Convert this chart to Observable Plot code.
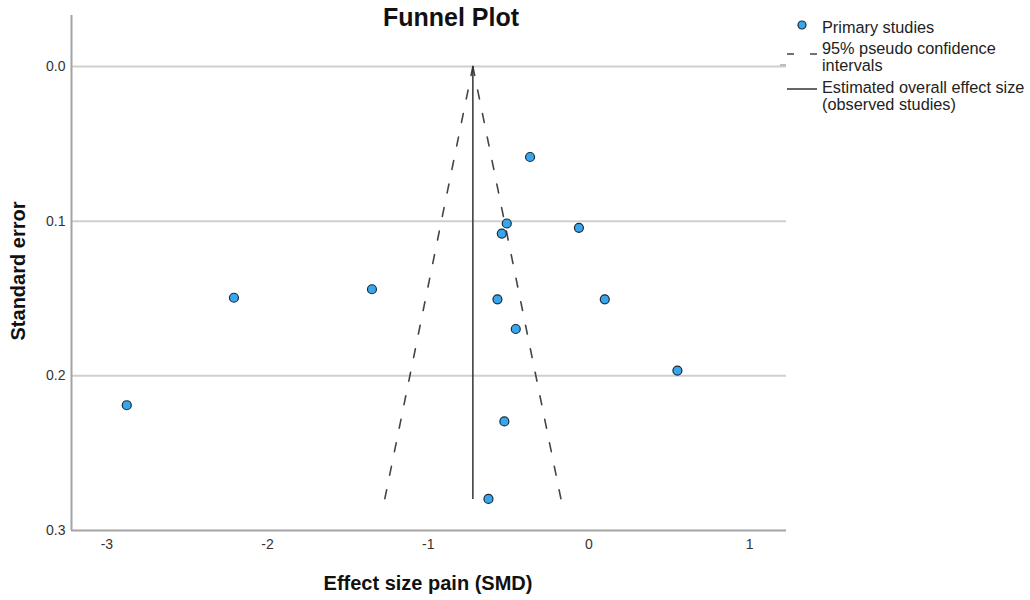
<!DOCTYPE html>
<html>
<head>
<meta charset="utf-8">
<script src="https://cdn.jsdelivr.net/npm/d3@7"></script>
<script src="https://cdn.jsdelivr.net/npm/@observablehq/plot@0.6"></script>
<style>
  body { margin: 0; background: #fff; font-family: "Liberation Sans", Arial, sans-serif; }
  #wrap { position: relative; width: 1030px; height: 600px; }
  .abs { position: absolute; line-height: 1; white-space: nowrap; color: #111; }
  .leg { position: absolute; font-size: 16.3px; line-height: 17px; color: #222; white-space: nowrap; }
</style>
</head>
<body>
<div id="wrap"></div>
<script>
// ---- data ----
const effectSize = [-0.366, -0.511, -0.542, -0.062, -0.569, 0.099, -0.455, 0.551, -0.526, -0.625, -2.209, -1.350, -2.876];
const standardError = [0.0585, 0.1015, 0.108, 0.1043, 0.1505, 0.1505, 0.1697, 0.1966, 0.2295, 0.2796, 0.1495, 0.144, 0.219];
const pooledEffect = -0.722;
const funnelSE = [0, 0.28];
const funnelLeftX = [-0.722, -1.271];
const funnelRightX = [-0.722, -0.173];
const xTicks = [-3, -2, -1, 0, 1];
const yTicks = [0, 0.1, 0.2, 0.3];
const gridY = [0, 0.1, 0.2];
const xDomain = [-3.22, 1.23];
const yDomain = [-0.033, 0.3];

const studies = effectSize.map((x, i) => ({x, se: standardError[i]}));
const leftLine = funnelSE.map((se, i) => ({x: funnelLeftX[i], se}));
const rightLine = funnelSE.map((se, i) => ({x: funnelRightX[i], se}));

const chart = Plot.plot({
  width: 1030,
  height: 600,
  marginLeft: 71,
  marginRight: 244,
  marginTop: 15,
  marginBottom: 70,
  style: {fontFamily: "Liberation Sans, Arial, sans-serif", background: "white"},
  x: {domain: xDomain},
  y: {domain: yDomain, reverse: true},
  marks: [
    Plot.ruleY(gridY, {stroke: "#cfcfcf", strokeWidth: 2}),
    Plot.ruleX([xDomain[0]], {stroke: "#a3a3a3", strokeWidth: 2}),
    Plot.ruleY([yDomain[1]], {stroke: "#a3a3a3", strokeWidth: 2}),
    Plot.axisY({ticks: yTicks, tickSize: 0, tickPadding: 6, tickFormat: d3.format(".1f"), fontSize: 14, label: null, color: "#333"}),
    Plot.axisX({ticks: xTicks, tickSize: 0, tickPadding: 9, tickFormat: d => d < 0 ? "-" + Math.abs(d) : String(d), fontSize: 14, label: null, color: "#333"}),
    Plot.line(leftLine, {x: "x", y: "se", stroke: "#444", strokeWidth: 1.6, strokeDasharray: "9,15"}),
    Plot.line(rightLine, {x: "x", y: "se", stroke: "#444", strokeWidth: 1.6, strokeDasharray: "9,15"}),
    Plot.ruleX([pooledEffect], {y1: funnelSE[0], y2: funnelSE[1], stroke: "#333", strokeWidth: 1.5}),
    Plot.dot(studies, {x: "x", y: "se", r: 4.5, fill: "#38a6ec", stroke: "#1c2b38", strokeWidth: 1.2})
  ]
});

const wrap = document.getElementById("wrap");
chart.style.position = "absolute";
chart.style.left = "0px";
chart.style.top = "0px";
wrap.appendChild(chart);

function addText(txt, css, cls) {
  const d = document.createElement("div");
  d.className = cls || "abs";
  d.innerHTML = txt;
  Object.assign(d.style, css);
  wrap.appendChild(d);
  return d;
}

addText("Funnel Plot", {left: "451px", top: "5px", fontSize: "25px", fontWeight: "bold", transform: "translateX(-50%)"});
addText("Effect size pain (SMD)", {left: "428px", top: "573px", fontSize: "20px", fontWeight: "bold", transform: "translateX(-50%)"});
addText("Standard error", {left: "18px", top: "271px", fontSize: "20px", fontWeight: "bold", transform: "translate(-50%,-50%) rotate(-90deg)"});

addText("Primary studies", {left: "822px", top: "19px"}, "leg");
addText("95% pseudo confidence<br>intervals", {left: "822px", top: "40px"}, "leg");
addText("Estimated overall effect size<br>(observed studies)", {left: "822px", top: "79px"}, "leg");

const lg = d3.select(wrap).append("svg")
  .attr("width", 50).attr("height", 100)
  .style("position", "absolute").style("left", "775px").style("top", "0px");
lg.append("circle").attr("cx", 27).attr("cy", 25).attr("r", 4)
  .attr("fill", "#38a6ec").attr("stroke", "#1c2b38").attr("stroke-width", 1.2);
lg.append("line").attr("x1", 12).attr("x2", 42).attr("y1", 54).attr("y2", 54)
  .attr("stroke", "#444").attr("stroke-width", 1.5).attr("stroke-dasharray", "7,16");
lg.append("line").attr("x1", 5).attr("x2", 11).attr("y1", 65).attr("y2", 65)
  .attr("stroke", "#aaa").attr("stroke-width", 1.5);
lg.append("line").attr("x1", 12).attr("x2", 42).attr("y1", 89).attr("y2", 89)
  .attr("stroke", "#333").attr("stroke-width", 1.5);
</script>
</body>
</html>
